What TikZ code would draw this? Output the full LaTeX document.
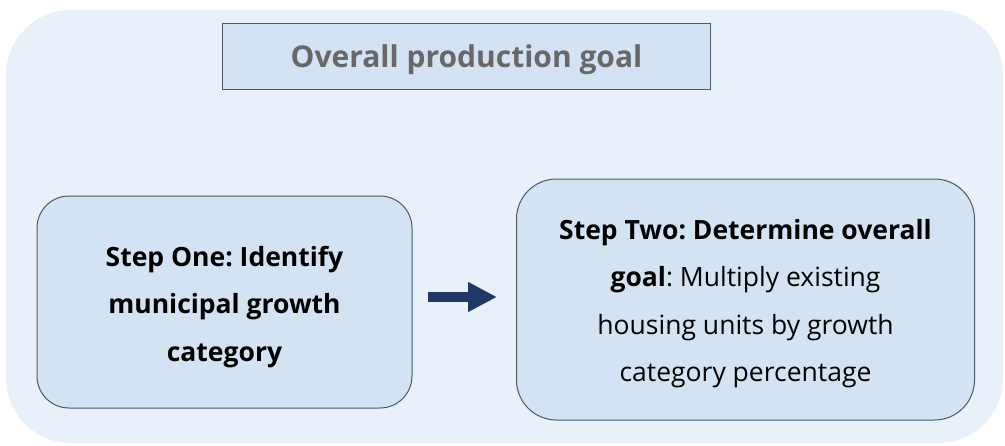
\documentclass[tikz,border=0pt]{standalone}
\usepackage{fontspec}
\setmainfont{Open Sans}
\usetikzlibrary{arrows.meta}
\definecolor{bgblue}{HTML}{E8F0FA}
\definecolor{boxblue}{HTML}{D3E3F3}
\definecolor{edgegray}{HTML}{4A5868}
\definecolor{titlegray}{HTML}{686868}
\definecolor{navy}{HTML}{1F3864}
\tikzset{
  stepbox/.style={draw=edgegray, fill=boxblue, line width=1pt, rounded corners=32pt, inner sep=0pt},
  steptext/.style={align=center, inner sep=0pt, font=\fontsize{26.5}{47.5}\selectfont\frenchspacing},
  titlebox/.style={draw=edgegray, fill=boxblue, line width=1pt, inner sep=0pt},
  titletext/.style={inner sep=0pt, font=\fontsize{30}{36}\selectfont\bfseries, text=titlegray},
  flowarrow/.style={line width=10pt, draw=navy, -{Triangle[length=29pt,width=28pt]}}
}
\begin{document}
\begin{tikzpicture}[x=1pt,y=-1pt]
\useasboundingbox (0,0) rectangle (1005,445);
\fill[bgblue, rounded corners=65pt] (6,10) rectangle (1003,443);
\node[titlebox, minimum width=488pt, minimum height=66pt] (title) at (466.5,56) {};
\node[titletext] (titlet) at ([yshift=-4pt]title.center) {Overall production goal};
\node[stepbox, minimum width=375pt, minimum height=212pt] (one) at (224.5,302) {};
\node[steptext] (onet) at ([yshift=-5pt]one.center)
  {\textbf{Step One: Identify}\\ \textbf{municipal growth}\\ \textbf{category}};
\node[stepbox, minimum width=458pt, minimum height=241pt, rounded corners=40pt] (two) at (745.5,299.5) {};
\node[steptext] (twot) at ([yshift=-4pt]two.center)
  {\textbf{Step Two: Determine overall}\\ \textbf{goal}: Multiply existing\\ housing units by growth\\ category percentage};
\coordinate (a1) at (428,297);
\coordinate (a2) at (497,297);
\draw[flowarrow] (a1) -- (a2);
\end{tikzpicture}
\end{document}
